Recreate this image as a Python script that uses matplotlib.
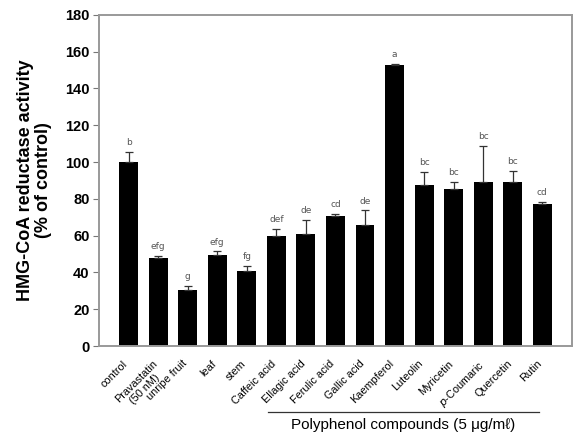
import matplotlib
matplotlib.use("Agg")
import matplotlib.pyplot as plt
import matplotlib.transforms as mtrans
import numpy as np

plt.rcParams['font.family'] = ['Liberation Sans', 'DejaVu Sans']

labels = ['control', 'Pravastatin\n(50 nM)', 'unripe fruit', 'leaf', 'stem',
          'Caffeic acid', 'Ellagic acid', 'Ferulic acid', 'Gallic acid',
          'Kaempferol', 'Luteolin', 'Myricetin', r'$\it{p}$-Coumaric',
          'Quercetin', 'Rutin']
values = [100.2, 47.7, 30.4, 49.6, 40.6, 59.8, 60.7, 70.7, 65.9,
          152.7, 87.3, 85.5, 89.0, 89.3, 77.3]
errors = [5.4, 1.3, 2.4, 1.8, 3.0, 3.8, 7.9, 1.2, 7.8,
          0.7, 7.3, 3.8, 20.0, 5.8, 1.1]
letters = ['b', 'efg', 'g', 'efg', 'fg', 'def', 'de', 'cd', 'de',
           'a', 'bc', 'bc', 'bc', 'bc', 'cd']

fig = plt.figure(figsize=(5.73, 4.38), dpi=100)
ax = fig.add_axes([0.173, 0.21, 0.825, 0.756])

x = np.arange(len(values))
ax.bar(x, values, width=0.64, color='black', zorder=2)
ax.errorbar(x, values, yerr=[np.zeros(len(errors)), errors], fmt='none',
            ecolor='#333333', elinewidth=0.9, capsize=3, capthick=0.9, zorder=3)
for xi, v, e, t in zip(x, values, errors, letters):
    ax.text(xi, v + e + 2.5, t, ha='center', va='bottom', fontsize=6.5,
            color='#555555', family=['DejaVu Sans'])

ax.set_xlim(-1, 15)
ax.set_ylim(0, 180)
ax.set_yticks(range(0, 181, 20))
ax.set_yticklabels([str(v) for v in range(0, 181, 20)], fontweight='bold', fontsize=10.5)
ax.set_xticks(x)
ax.set_xticklabels(labels, rotation=45, ha='right', rotation_mode='anchor',
                   fontsize=7.8, multialignment='center')
ax.tick_params(axis='x', length=0, pad=9)
shift = mtrans.ScaledTranslation(-6 / 100, 0, fig.dpi_scale_trans)
for lab in ax.get_xticklabels():
    lab.set_transform(lab.get_transform() + shift)
ax.tick_params(axis='y', length=4, direction='out', color='#777777', pad=3)
for s in ax.spines.values():
    s.set_color('#999999')
    s.set_linewidth(1.4)

ax.set_ylabel('HMG-CoA reductase activity\n(% of control)', fontweight='bold',
              fontsize=13, labelpad=9, linespacing=1.1)

# group bracket for polyphenols
trans = ax.get_xaxis_transform()
ax.plot([4.7, 13.9], [-0.2, -0.2], color='#333333', lw=0.9, transform=trans, clip_on=False)
ax.text(9.28, -0.218, 'Polyphenol compounds (5 μg/mℓ)', transform=trans,
        ha='center', va='top', fontsize=11)

fig.savefig('out.png', dpi=100)
